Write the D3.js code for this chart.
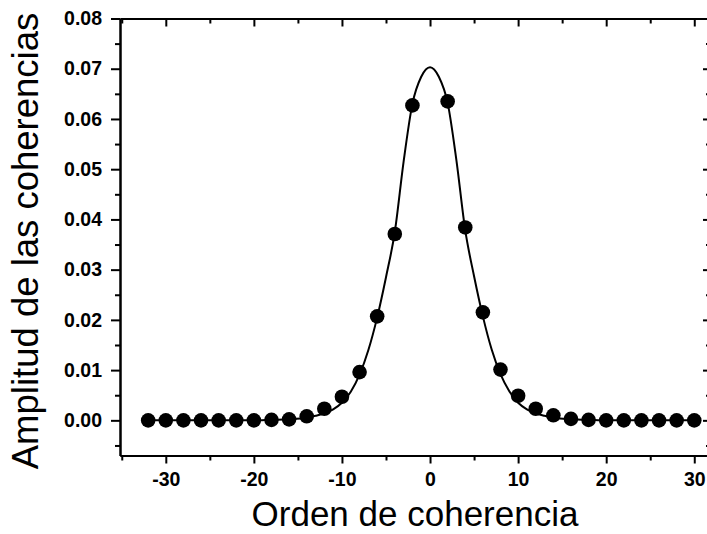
<!DOCTYPE html>
<html>
<head>
<meta charset="utf-8">
<script src="https://cdn.jsdelivr.net/npm/d3@7"></script>
<style>
  body { margin: 0; background: #fff; }
  text { font-family: "Liberation Sans", Arial, sans-serif; }
</style>
</head>
<body>
<div id="my_dataviz"></div>
<script>
// data
var ordenPts = [-32, -30, -28, -26, -24, -22, -20, -18, -16, -14, -12, -10, -8, -6, -4, -2,
                2, 4, 6, 8, 10, 12, 14, 16, 18, 20, 22, 24, 26, 28, 30];
var amplitudPts = [0.0000, 0.0000, 0.0000, 0.0000, 0.0000, 0.0000, 0.0000, 0.0001, 0.0002, 0.0008, 0.0023, 0.0047, 0.0096, 0.0207, 0.0371, 0.0627,
                   0.0635, 0.0384, 0.0215, 0.0101, 0.0049, 0.0023, 0.0010, 0.0003, 0.0001, 0.0000, 0.0000, 0.0000, 0.0000, 0.0000, 0.0000];

// fitted curve
var ordenFit = [-32, -25, -20, -18, -16, -14, -13, -12, -11, -10, -9, -8, -7, -6, -5, -4, -3, -2, -1, 0,
                1, 2, 3, 4, 5, 6, 7, 8, 9, 10, 11, 12, 13, 14, 16, 18, 20, 25, 30];
var amplitudFit = [0, 0, 0, 0.0001, 0.0002, 0.0005, 0.0009, 0.0014, 0.0022, 0.0035, 0.0057, 0.0091, 0.0140, 0.0205, 0.0285, 0.0375, 0.0515, 0.0630, 0.0684, 0.0703,
                   0.0684, 0.0632, 0.0517, 0.0378, 0.0287, 0.0207, 0.0141, 0.0092, 0.0058, 0.0035, 0.0022, 0.0014, 0.0009, 0.0005, 0.0002, 0.0001, 0, 0, 0];

var xTicks = [-30, -20, -10, 0, 10, 20, 30];
var yTicks = [0.00, 0.01, 0.02, 0.03, 0.04, 0.05, 0.06, 0.07, 0.08];

// set the dimensions and margins of the graph
var margin = { top: 18.5, right: -4, bottom: 78.5, left: 120 },
    width = 707 - margin.left - margin.right,
    height = 534 - margin.top - margin.bottom;

var svg = d3.select("#my_dataviz")
    .append("svg")
    .attr("width", 707)
    .attr("height", 534)
    .append("g")
    .attr("transform", "translate(" + margin.left + "," + margin.top + ")");

var x = d3.scaleLinear()
    .domain([-35.2, 31.9])
    .range([0, width]);

var y = d3.scaleLinear()
    .domain([-0.007, 0.08])
    .range([height, 0]);

var minorX = d3.range(-35, 32, 5).filter(function (d) { return d % 10 !== 0; });
var minorY = d3.range(-0.005, 0.08, 0.01);

function styleAxis(g) {
    g.select(".domain").attr("stroke", "#000").attr("stroke-width", 2);
    g.selectAll(".tick line").attr("stroke", "#000").attr("stroke-width", 2);
    g.selectAll(".tick text")
        .attr("fill", "#000")
        .style("font-size", "19.5px")
        .style("font-weight", "bold");
}

// bottom axis, outward ticks (plain hyphen for minus)
svg.append("g")
    .attr("transform", "translate(0," + height + ")")
    .call(d3.axisBottom(x).tickValues(xTicks).tickFormat(function (d) { return String(d); }).tickSize(8).tickPadding(9).tickSizeOuter(0))
    .call(styleAxis);
svg.append("g")
    .attr("transform", "translate(0," + height + ")")
    .call(d3.axisBottom(x).tickValues(minorX).tickFormat("").tickSize(5).tickSizeOuter(0))
    .call(styleAxis);

// left axis
svg.append("g")
    .call(d3.axisLeft(y).tickValues(yTicks).tickFormat(function (d) { return d.toFixed(2); }).tickSize(9).tickPadding(9).tickSizeOuter(0))
    .call(styleAxis);
svg.append("g")
    .call(d3.axisLeft(y).tickValues(minorY).tickFormat("").tickSize(5).tickSizeOuter(0))
    .call(styleAxis);

// top and right mirror axes, ticks pointing in
svg.append("g")
    .call(d3.axisTop(x).tickValues(xTicks).tickFormat("").tickSize(-8).tickSizeOuter(0))
    .call(styleAxis);
svg.append("g")
    .call(d3.axisTop(x).tickValues(minorX).tickFormat("").tickSize(-5).tickSizeOuter(0))
    .call(styleAxis);
svg.append("g")
    .attr("transform", "translate(" + width + ",0)")
    .call(d3.axisRight(y).tickValues(yTicks).tickFormat("").tickSize(-8).tickSizeOuter(0))
    .call(styleAxis);
svg.append("g")
    .attr("transform", "translate(" + width + ",0)")
    .call(d3.axisRight(y).tickValues(minorY).tickFormat("").tickSize(-5).tickSizeOuter(0))
    .call(styleAxis);

// fitted line
svg.append("path")
    .datum(ordenFit.map(function (d, i) { return [d, amplitudFit[i]]; }))
    .attr("fill", "none")
    .attr("stroke", "#000")
    .attr("stroke-width", 2)
    .attr("d", d3.line()
        .curve(d3.curveMonotoneX)
        .x(function (d) { return x(d[0]); })
        .y(function (d) { return y(d[1]); })
    );

// points
svg.selectAll("circle.pt")
    .data(ordenPts)
    .enter()
    .append("circle")
    .attr("class", "pt")
    .attr("cx", function (d) { return x(d); })
    .attr("cy", function (d, i) { return y(amplitudPts[i]); })
    .attr("r", 7.3)
    .attr("fill", "#000");

// axis titles
svg.append("text")
    .attr("x", 415 - margin.left)
    .attr("y", 526 - margin.top)
    .attr("text-anchor", "middle")
    .style("font-size", "35px")
    .text("Orden de coherencia");

svg.append("text")
    .attr("transform", "translate(" + (38 - margin.left) + "," + (241 - margin.top) + ") rotate(-90)")
    .attr("text-anchor", "middle")
    .style("font-size", "36.5px")
    .text("Amplitud de las coherencias");
</script>
</body>
</html>
